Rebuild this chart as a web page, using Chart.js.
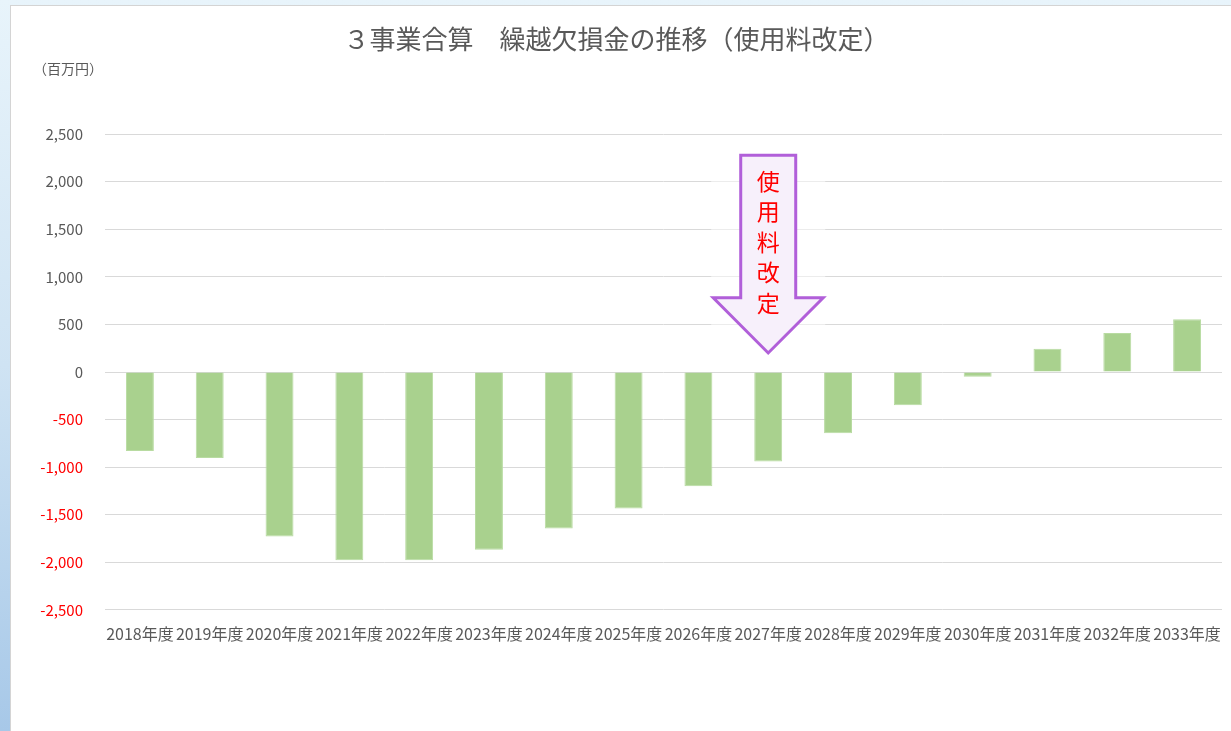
<!DOCTYPE html>
<html lang="ja">
<head>
<meta charset="utf-8">
<title>繰越欠損金の推移</title>
<script src="https://cdn.jsdelivr.net/npm/chart.js@4.4.1/dist/chart.umd.min.js"></script>
<style>
  html, body { margin: 0; padding: 0; }
  body {
    width: 1231px; height: 731px; overflow: hidden;
    background: linear-gradient(to bottom, #e8f4fb 0%, #cfe3f3 50%, #a7c8e8 100%);
    position: relative;
  }
  #frame {
    position: absolute; left: 10px; top: 5px; width: 1230px; height: 740px;
    background: #ffffff; border: 1px solid #d4d4d4;
  }
  #chartBox { position: absolute; left: 0; top: 0; width: 1220px; height: 725px; }
</style>
</head>
<body>
<div id="frame">
  <div id="chartBox"><canvas id="lossChart"></canvas></div>
</div>
<script>
// 年度ラベルと繰越欠損金（百万円）
const years = ['2018年度', '2019年度', '2020年度', '2021年度', '2022年度', '2023年度', '2024年度', '2025年度',
               '2026年度', '2027年度', '2028年度', '2029年度', '2030年度', '2031年度', '2032年度', '2033年度'];
const carryLoss = [-830, -905, -1730, -1980, -1980, -1870, -1645, -1435,
                   -1200, -940, -645, -350, -50, 245, 410, 555];
const yTicks = [2500, 2000, 1500, 1000, 500, 0, -500, -1000, -1500, -2000, -2500];

// 改定矢印（2027年度の上）
const revisionYear = '2027年度';
const revisionText = ['使', '用', '料', '改', '定'];
const arrowTop = 2280, arrowNeck = 780, arrowTip = 200;

const gray = '#595959';
const jp = '"Noto Sans CJK JP", "Noto Sans", sans-serif';

// 単位ラベル
const unitLabel = {
  id: 'unitLabel',
  afterDraw(chart) {
    const ctx = chart.ctx;
    ctx.save();
    ctx.font = '14px ' + jp;
    ctx.fillStyle = gray;
    ctx.textBaseline = 'middle';
    ctx.fillText('（百万円）', 22, 63);
    ctx.restore();
  }
};

// 使用料改定の矢印
const revisionArrow = {
  id: 'revisionArrow',
  afterDatasetsDraw(chart) {
    const { ctx, scales: { x, y } } = chart;
    const cx = x.getPixelForValue(years.indexOf(revisionYear));
    const top = y.getPixelForValue(arrowTop);
    const neck = y.getPixelForValue(arrowNeck);
    const tip = y.getPixelForValue(arrowTip);
    const shaft = 27.5, head = 55;
    ctx.save();
    ctx.fillStyle = 'rgba(255,255,255,0.5)';
    ctx.fillRect(cx - head - 2, top, head * 2 + 4, tip - top);
    ctx.beginPath();
    ctx.moveTo(cx - shaft, top);
    ctx.lineTo(cx + shaft, top);
    ctx.lineTo(cx + shaft, neck);
    ctx.lineTo(cx + head, neck);
    ctx.lineTo(cx, tip);
    ctx.lineTo(cx - head, neck);
    ctx.lineTo(cx - shaft, neck);
    ctx.closePath();
    ctx.fillStyle = '#f7f0fb';
    ctx.fill();
    ctx.lineWidth = 3;
    ctx.strokeStyle = '#b15fd9';
    ctx.lineJoin = 'miter';
    ctx.stroke();
    ctx.font = '23px ' + jp;
    ctx.fillStyle = '#ff0000';
    ctx.textAlign = 'center';
    ctx.textBaseline = 'middle';
    revisionText.forEach((ch, i) => ctx.fillText(ch, cx, top + 26 + i * 30.5));
    ctx.restore();
  }
};

new Chart(document.getElementById('lossChart'), {
  type: 'bar',
  data: {
    labels: years,
    datasets: [{
      label: '繰越欠損金',
      data: carryLoss,
      backgroundColor: '#a9d18e',
      borderColor: '#b8dba1',
      borderWidth: 1,
      categoryPercentage: 1,
      barPercentage: 0.4
    }]
  },
  options: {
    responsive: true,
    maintainAspectRatio: false,
    animation: false,
    layout: { padding: { top: 0, right: 9, bottom: 80, left: 0 } },
    plugins: {
      legend: { display: false },
      tooltip: { enabled: false },
      title: {
        display: true,
        text: '３事業合算　繰越欠損金の推移（使用料改定）',
        color: gray,
        font: { family: jp, size: 26, weight: 'normal' },
        padding: { top: 18, bottom: 79 }
      }
    },
    scales: {
      x: {
        grid: { display: false },
        border: { display: false },
        ticks: {
          color: gray,
          font: { family: jp, size: 16 },
          maxRotation: 0,
          autoSkip: false,
          padding: 7
        }
      },
      y: {
        min: -2500,
        max: 2500,
        afterFit: s => { s.width = 94; },
        afterBuildTicks: s => { s.ticks = yTicks.map(v => ({ value: v })); },
        grid: { color: '#d9d9d9', lineWidth: 1, drawTicks: false },
        border: { display: false },
        ticks: {
          padding: 22,
          font: { family: jp, size: 15 },
          color: c => (c.tick && c.tick.value < 0 ? '#ff0000' : gray),
          callback: v => v.toLocaleString('en-US')
        }
      }
    }
  },
  plugins: [unitLabel, revisionArrow]
});
</script>
</body>
</html>
